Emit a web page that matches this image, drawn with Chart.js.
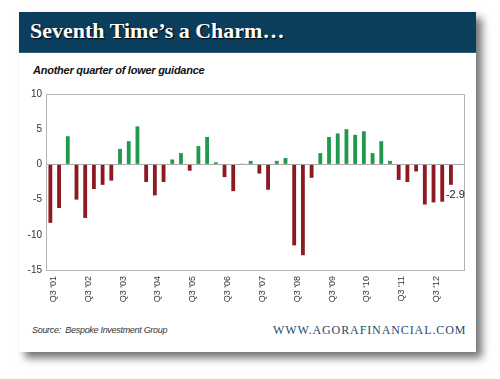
<!DOCTYPE html>
<html>
<head>
<meta charset="utf-8">
<script src="https://cdn.jsdelivr.net/npm/chart.js@4.4.1/dist/chart.umd.min.js"></script>
<style>
  html, body { margin: 0; padding: 0; background: #fff; }
  body { width: 500px; height: 379px; position: relative; overflow: hidden; }
  #card {
    position: absolute; left: 19px; top: 12px; width: 457px; height: 340px;
    background: #fff; box-shadow: 6px 6px 8px rgba(0,0,0,0.55);
  }
  #header {
    position: absolute; left: 0; top: 0; width: 457px; height: 40px;
    background: #0b3d5d; border-bottom: 1px solid #2c5f80;
  }
  #title {
    position: absolute; left: 11px; top: 6px; color: #fff;
    font-family: "Liberation Serif", serif; font-weight: bold; font-size: 22px;
    text-shadow: 1px 1px 1px #000; white-space: nowrap;
  }
  #subtitle {
    position: absolute; left: 14px; top: 52px; color: #111;
    font-family: "Liberation Sans", sans-serif; font-weight: bold; font-style: italic;
    font-size: 11px; letter-spacing: -0.25px; white-space: nowrap;
  }
  #source {
    position: absolute; left: 13px; top: 313px; color: #333;
    font-family: "Liberation Sans", sans-serif; font-style: italic; font-size: 9px;
    letter-spacing: -0.3px; white-space: nowrap;
  }
  #site {
    position: absolute; left: 254px; top: 311px; color: #1b4a6b;
    font-family: "Liberation Serif", serif; font-size: 12px; letter-spacing: 0.9px;
    white-space: nowrap;
  }
  #myChart { position: absolute; left: 0; top: 0; }
</style>
</head>
<body>
<div id="card">
  <div id="header"><div id="title">Seventh Time’s a Charm…</div></div>
  <div id="subtitle">Another quarter of lower guidance</div>
  <div id="source">Source:&nbsp; Bespoke Investment Group</div>
  <div id="site">WWW.AGORAFINANCIAL.COM</div>
</div>
<canvas id="myChart" width="500" height="379"></canvas>
<script>
const quarters = [
  "Q3 '01", "Q4 '01",
  "Q1 '02", "Q2 '02", "Q3 '02", "Q4 '02",
  "Q1 '03", "Q2 '03", "Q3 '03", "Q4 '03",
  "Q1 '04", "Q2 '04", "Q3 '04", "Q4 '04",
  "Q1 '05", "Q2 '05", "Q3 '05", "Q4 '05",
  "Q1 '06", "Q2 '06", "Q3 '06", "Q4 '06",
  "Q1 '07", "Q2 '07", "Q3 '07", "Q4 '07",
  "Q1 '08", "Q2 '08", "Q3 '08", "Q4 '08",
  "Q1 '09", "Q2 '09", "Q3 '09", "Q4 '09",
  "Q1 '10", "Q2 '10", "Q3 '10", "Q4 '10",
  "Q1 '11", "Q2 '11", "Q3 '11", "Q4 '11",
  "Q1 '12", "Q2 '12", "Q3 '12", "Q4 '12",
  "Q1 '13", "Q2 '13"
];

// guidance spread per quarter (last slot left empty like the original)
const guidance = [
  -8.3, -6.2,
  4.0, -5.0, -7.6, -3.5,
  -2.9, -2.3, 2.2, 3.3,
  5.4, -2.5, -4.4, -2.5,
  0.7, 1.6, -0.9, 2.6,
  3.9, 0.3, -1.8, -3.8,
  0.1, 0.5, -1.3, -3.6,
  0.5, 0.9, -11.5, -12.9,
  -1.9, 1.6, 3.9, 4.4,
  5.0, 4.2, 4.7, 1.6,
  3.3, 0.5, -2.2, -2.5,
  -1.0, -5.7, -5.4, -5.3,
  -2.9, null
];

const yTicks = [10, 5, 0, -5, -10, -15];

const barColors = guidance.map(v => v >= 0 ? '#1f9a4b' : '#8b1a21');

const frame = {
  id: 'frame',
  beforeDatasetsDraw(chart) {
    const a = chart.chartArea;
    const ctx = chart.ctx;
    ctx.save();
    ctx.strokeStyle = '#b4b4b4';
    ctx.lineWidth = 1;
    ctx.strokeRect(Math.round(a.left) + 0.5, Math.round(a.top) + 0.5,
      Math.round(a.right - a.left), Math.round(a.bottom - a.top));
    ctx.restore();
  },
  afterDatasetsDraw(chart) {
    // value label for the latest quarter
    const meta = chart.getDatasetMeta(0);
    const last = guidance.length - 2;
    const bar = meta.data[last];
    const ctx = chart.ctx;
    ctx.save();
    ctx.font = '11px "Liberation Sans", sans-serif';
    ctx.fillStyle = '#222';
    ctx.textAlign = 'left';
    ctx.textBaseline = 'middle';
    ctx.fillText(guidance[last].toFixed(1), bar.x - 5, bar.y + 10);
    ctx.restore();
  }
};

new Chart(document.getElementById('myChart'), {
  type: 'bar',
  data: {
    labels: quarters,
    datasets: [{
      data: guidance,
      backgroundColor: barColors,
      barPercentage: 0.44,
      categoryPercentage: 1
    }]
  },
  options: {
    responsive: false,
    animation: false,
    layout: { padding: { left: 19, right: 36, top: 94, bottom: 0 } },
    plugins: { legend: { display: false }, tooltip: { enabled: false } },
    scales: {
      x: {
        grid: { display: false, drawTicks: false },
        border: { display: false },
        ticks: {
          autoSkip: false,
          minRotation: 90,
          maxRotation: 90,
          padding: 6,
          labelOffset: 3,
          color: '#333',
          font: { family: '"Liberation Sans", sans-serif', size: 9 },
          callback: function (val, i) {
            return i % 4 === 0 ? quarters[i] : '';
          }
        },
        afterFit(scale) { scale.height = 109; }
      },
      y: {
        min: -15,
        max: 10,
        afterBuildTicks(scale) { scale.ticks = yTicks.map(v => ({ value: v })); },
        grid: {
          drawTicks: false,
          color: ctx => ctx.tick && ctx.tick.value === 0 ? '#aaaaaa' : 'rgba(0,0,0,0)'
        },
        border: { display: false },
        ticks: {
          padding: 4,
          color: '#333',
          font: { family: '"Liberation Sans", sans-serif', size: 10 }
        },
        afterFit(scale) { scale.width = 27; }
      }
    }
  },
  plugins: [frame]
});
</script>
</body>
</html>
